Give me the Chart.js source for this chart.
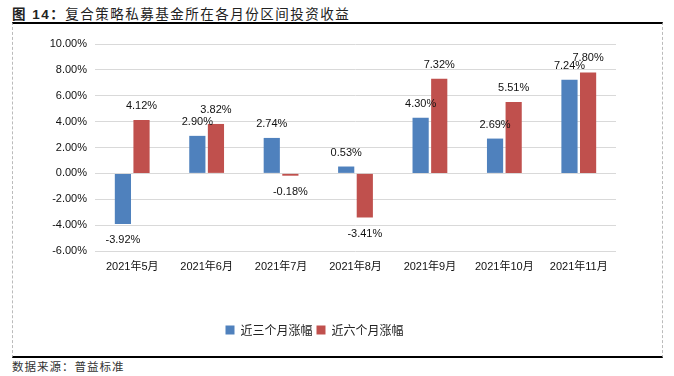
<!DOCTYPE html>
<html>
<head>
<meta charset="utf-8">
<script src="https://cdn.jsdelivr.net/npm/chart.js@4"></script>
<style>
  body { margin: 0; background: #fff; width: 674px; height: 376px; overflow: hidden; position: relative;
         font-family: "Liberation Sans", "Noto Sans CJK SC", sans-serif; }
  #titulo { position: absolute; left: 12px; top: 3px; font-size: 13.5px; color: #222;
            font-family: "Noto Sans CJK SC", sans-serif; letter-spacing: 1.5px; }
  #titulo b { font-family: "Liberation Sans", "Noto Sans CJK SC", sans-serif; }
  #marco { position: absolute; left: 12px; top: 22px; width: 649px; height: 332px;
           border-top: 2px solid #000; border-bottom: 2px solid #000;
           border-left: 1px dashed #bbb; border-right: 1px dashed #bbb; }
  #fuente { position: absolute; left: 12px; top: 358px; font-size: 11.5px; color: #333;
            font-family: "Noto Sans CJK SC", sans-serif; letter-spacing: 1px; }
  #caja { position: absolute; left: 13px; top: 24px; width: 648px; height: 330px; }
</style>
</head>
<body>
<div id="titulo"><b>图 14：</b>复合策略私募基金所在各月份区间投资收益</div>
<div id="marco"></div>
<div id="caja"><canvas id="barras_rentabilidad"></canvas></div>
<div id="fuente">数据来源：普益标准</div>
<script>
// datos
const meses = ['2021年5月', '2021年6月', '2021年7月', '2021年8月', '2021年9月', '2021年10月', '2021年11月'];
const tresMeses = [-3.92, 2.90, 2.74, 0.53, 4.30, 2.69, 7.24];
const seisMeses = [4.12, 3.82, -0.18, -3.41, 7.32, 5.51, 7.80];
const ticksY = [-6, -4, -2, 0, 2, 4, 6, 8, 10];

// etiquetas encima / debajo de cada barra
const etiquetas = {
  id: 'etiquetas',
  afterDatasetsDraw(chart) {
    const ctx = chart.ctx;
    ctx.save();
    ctx.font = '11px "Liberation Sans", sans-serif';
    ctx.fillStyle = '#111';
    ctx.textAlign = 'center';
    ctx.textBaseline = 'middle';
    chart.data.datasets.forEach((ds, i) => {
      chart.getDatasetMeta(i).data.forEach((bar, j) => {
        const v = ds.data[j];
        const y = v >= 0 ? bar.y - 14 : bar.y + 16;
        ctx.fillText(v.toFixed(2) + '%', bar.x, y);
      });
    });
    ctx.restore();
  }
};

const barras_rentabilidad = document.getElementById('barras_rentabilidad');

let barras_OBJ = new Chart(barras_rentabilidad, {
  type: 'bar',
  data: {
    labels: meses,
    datasets: [{
      label: '近三个月涨幅',
      data: tresMeses,
      backgroundColor: '#4F81BD',
      categoryPercentage: 0.5,
      barPercentage: 0.87
    }, {
      label: '近六个月涨幅',
      data: seisMeses,
      backgroundColor: '#C0504D',
      categoryPercentage: 0.5,
      barPercentage: 0.87
    }]
  },
  options: {
    responsive: true,
    maintainAspectRatio: false,
    animation: false,
    layout: { padding: { top: 20, right: 45, bottom: 8, left: 0 } },
    plugins: {
      tooltip: { enabled: false },
      legend: {
        position: 'bottom',
        labels: {
          boxWidth: 9, boxHeight: 9, padding: 4,
          color: '#222',
          font: { size: 12, family: '"Noto Sans CJK SC", sans-serif' }
        }
      }
    },
    scales: {
      x: {
        grid: { display: false },
        border: { display: false },
        ticks: { color: '#111', font: { size: 11, family: '"Liberation Sans", "Noto Sans CJK SC", sans-serif' }, maxRotation: 0, padding: 1 },
        afterFit: (s) => { s.height = 69; }
      },
      y: {
        min: ticksY[0],
        max: ticksY[ticksY.length - 1],
        afterBuildTicks: (s) => { s.ticks = ticksY.map(v => ({ value: v })); },
        grid: { color: '#d9d9d9', drawTicks: false },
        border: { display: false },
        ticks: {
          color: '#111',
          padding: 8,
          font: { size: 11, family: '"Liberation Sans", sans-serif' },
          callback: (v) => v.toFixed(2) + '%'
        },
        afterFit: (s) => { s.width = 82; }
      }
    }
  },
  plugins: [etiquetas]
});
</script>
</body>
</html>
